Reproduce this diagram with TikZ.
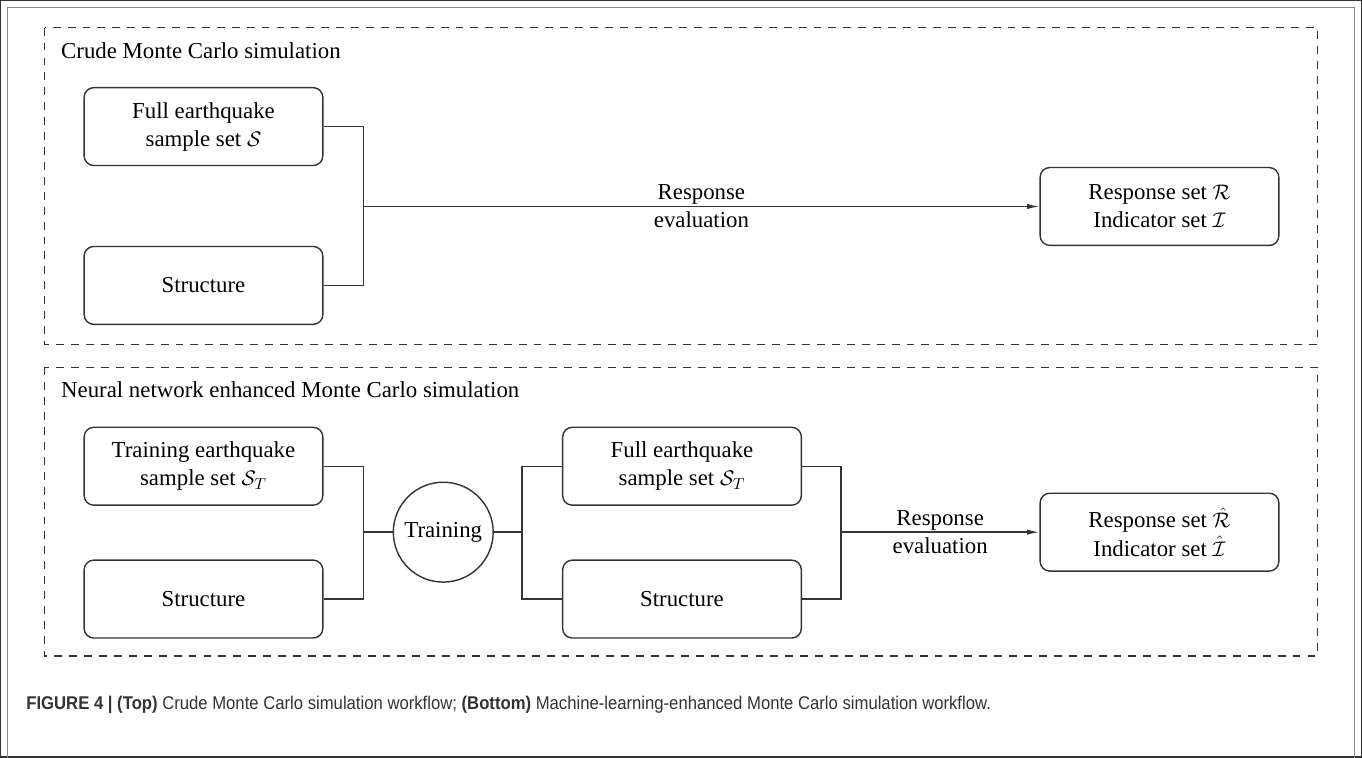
\documentclass[tikz,border=0pt]{standalone}
\usepackage{fontspec}
\setmainfont{Liberation Serif}
\newfontfamily\capfont{Liberation Sans}
\usetikzlibrary{arrows.meta}
\definecolor{linegray}{HTML}{333333}
\definecolor{framegray}{HTML}{8C8C8C}
\begin{document}
\begin{tikzpicture}[x=0.02cm, y=-0.02cm,
    font=\fontsize{13}{16}\selectfont,
    every path/.style={line width=0.8pt, draw=linegray},
    box/.style={draw=linegray, rounded corners=5.5pt, align=center,
      minimum width=4.78cm, minimum height=1.56cm, inner sep=0pt},
    ball/.style={draw=linegray, circle, minimum size=2cm, inner sep=0pt},
    frame/.style={draw=linegray, dash pattern=on 4.5pt off 4pt, line width=0.7pt},
    flow/.style={-{Latex[length=7pt, width=3pt]}},
    lbl/.style={align=center, inner sep=0pt}]
  \useasboundingbox (0,0) rectangle (1362,757);
  \draw[framegray, line width=0.6pt] (7,770) -- (7,7) -- (1355,7) -- (1355,770);

  % crude Monte Carlo
  \draw[frame] (44,27) rectangle (1318,344);
  \node[anchor=west] (ttl1) at (54,50) {Crude Monte Carlo simulation};
  \node[box] (full) at (203,126) {Full earthquake\\sample set $\mathcal{S}$};
  \node[box] (struc) at (203,285) {Structure};
  \node[box] (resp) at (1160,206) {Response set $\mathcal{R}$\\Indicator set $\mathcal{I}$};
  \coordinate (j1) at (363,206);

  \draw (full.east) -| (j1);
  \draw (struc.east) -| (j1);
  \draw[flow] (j1) -- node[lbl] {Response\\evaluation} (resp.west);

  % neural network enhanced Monte Carlo
  \draw[frame] (44,367) rectangle (1318,656);
  \node[anchor=west] (ttl2) at (54,389) {Neural network enhanced Monte Carlo simulation};
  \node[box] (train) at (203,466) {Training earthquake\\sample set $\mathcal{S}_T$};
  \node[box] (struc2) at (203,599) {Structure};
  \node[ball] (nn) at (443,532) {Training};
  \node[box] (full2) at (682,466) {Full earthquake\\sample set $\mathcal{S}_T$};
  \node[box] (struc3) at (682,599) {Structure};
  \node[box] (resp2) at (1160,532) {Response set $\hat{\mathcal{R}}$\\Indicator set $\hat{\mathcal{I}}$};
  \coordinate (j2) at (363,532);
  \coordinate (j3) at (522,532);
  \coordinate (j4) at (841,532);

  \draw (train.east) -| (j2);
  \draw (struc2.east) -| (j2);
  \draw (j2) -- (nn);
  \draw (nn) -- (j3);
  \draw (j3) |- (full2.west);
  \draw (j3) |- (struc3.west);
  \draw (full2.east) -| (j4);
  \draw (struc3.east) -| (j4);
  \draw[flow] (j4) -- node[lbl] {Response\\evaluation} (resp2.west);

  % caption
  \node[anchor=west, inner sep=0pt, text=linegray, font=\capfont\fontsize{10.5}{12.5}\selectfont] (cap) at (25,705)
    {\scalebox{0.905}[1]{\textbf{FIGURE 4 | (Top)} Crude Monte Carlo simulation workflow; \textbf{(Bottom)} Machine-learning-enhanced Monte Carlo simulation workflow.}};
\end{tikzpicture}
\end{document}
